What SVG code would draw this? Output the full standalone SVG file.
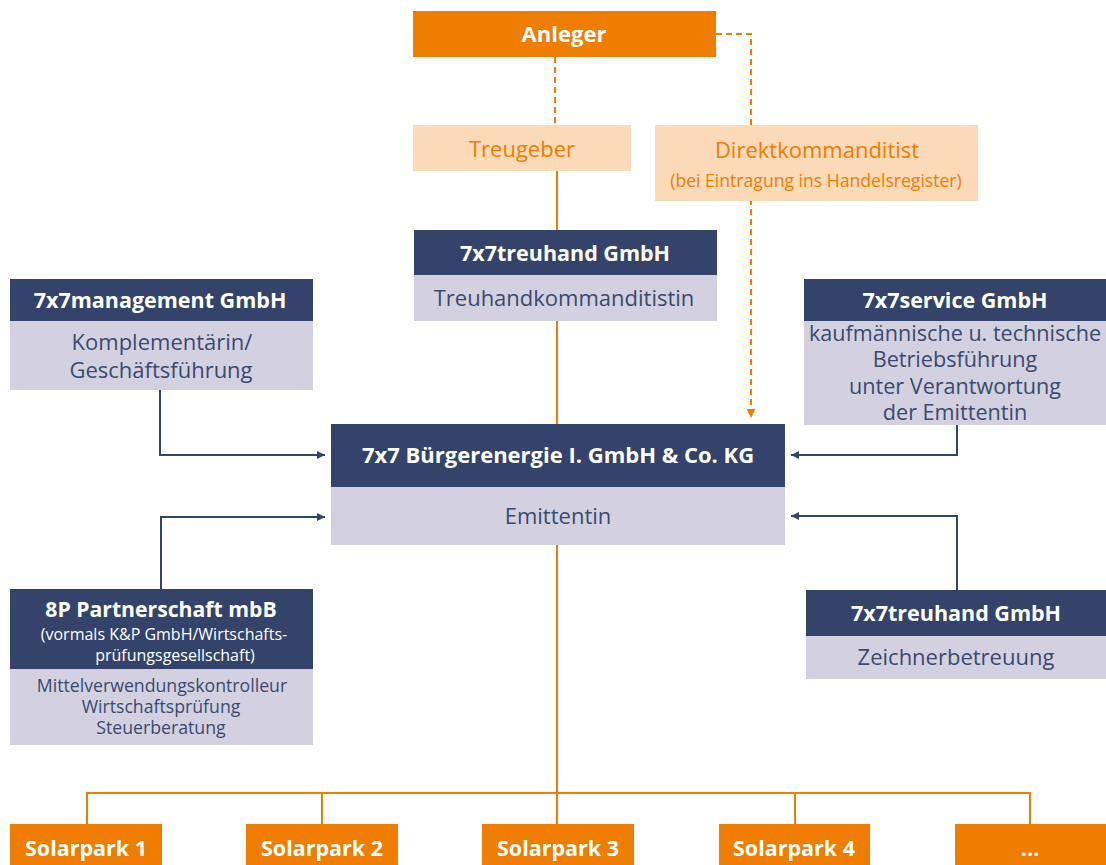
<svg xmlns="http://www.w3.org/2000/svg" width="1106" height="865" viewBox="0 0 1106 865">
<defs>
<style>
.hd{fill:#33436a}
.bd{fill:#d3d1df}
.or{fill:#ee7d00}
.lo{fill:#fcd9b7}
text{font-family:"Open Sans","DejaVu Sans",sans-serif;text-anchor:middle}
.ht{fill:#fff;font-weight:bold;font-size:21.5px}
.bt{fill:#3a4a72;font-size:22px}
.ot{fill:#ee7d00;font-size:22px}
.st{fill:#fff;font-size:16px}
.nav{stroke:#33436a;stroke-width:2;fill:none}
.orl{stroke:#ee7d00;stroke-width:2;fill:none}
.dash{stroke:#ee7d00;stroke-width:2;fill:none;stroke-dasharray:6,4}
</style>
<marker id="an" viewBox="0 0 10 10" refX="10" refY="5" markerWidth="8" markerHeight="8" markerUnits="userSpaceOnUse" orient="auto"><path d="M0,0 L10,5 L0,10 z" fill="#33436a"/></marker>
<marker id="ao" viewBox="0 0 10 10" refX="10" refY="5" markerWidth="9" markerHeight="9" markerUnits="userSpaceOnUse" orient="auto"><path d="M0,0 L10,5 L0,10 z" fill="#ee7d00"/></marker>
</defs>
<rect width="1106" height="865" fill="#fff"/>
<g id="connectors">
<path class="dash" d="M555,57 V125"/>
<path class="dash" d="M716,34 H751 V418" marker-end="url(#ao)"/>
<path class="orl" d="M557,171 V230"/>
<path class="orl" d="M557,321 V424"/>
<path class="nav" d="M160,390 V455 H325" marker-end="url(#an)"/>
<path class="nav" d="M957,425 V455 H791" marker-end="url(#an)"/>
<path class="nav" d="M161,589 V517 H325" marker-end="url(#an)"/>
<path class="nav" d="M957,590 V516 H791" marker-end="url(#an)"/>
<path class="orl" d="M557,545 V793"/>
<path class="orl" d="M87,824 V793 H1030 V824 M322,793 V824 M557,793 V824 M795,793 V824"/>
</g>
<g id="anleger">
<rect class="or" x="413" y="11" width="303" height="46"/>
<text class="ht" x="564" y="42" style="font-size:22px">Anleger</text>
</g>
<g id="treugeber">
<rect class="lo" x="413" y="125" width="218" height="46"/>
<text class="ot" x="522" y="157">Treugeber</text>
</g>
<g id="direkt">
<rect class="lo" x="655" y="125" width="323" height="76"/>
<text class="ot" x="817" y="158">Direktkommanditist</text>
<text class="ot" x="816" y="187" style="font-size:17.6px">(bei Eintragung ins Handelsregister)</text>
</g>
<g id="treuhand1">
<rect class="hd" x="414" y="230" width="303" height="45"/>
<rect class="bd" x="414" y="275" width="303" height="46"/>
<text class="ht" x="565" y="261">7x7treuhand GmbH</text>
<text class="bt" x="564" y="306">Treuhandkommanditistin</text>
</g>
<g id="management">
<rect class="hd" x="10" y="279" width="303" height="42"/>
<rect class="bd" x="10" y="321" width="303" height="69"/>
<text class="ht" x="160" y="308">7x7management GmbH</text>
<text class="bt" x="162" y="350">Komplementärin/</text>
<text class="bt" x="161" y="378">Geschäftsführung</text>
</g>
<g id="service">
<rect class="hd" x="804" y="279" width="302" height="42"/>
<rect class="bd" x="804" y="321" width="302" height="104"/>
<text class="ht" x="955" y="308">7x7service GmbH</text>
<text class="bt" x="955" y="341" style="font-size:21.6px">kaufmännische u. technische</text>
<text class="bt" x="955" y="367" style="font-size:21.6px">Betriebsführung</text>
<text class="bt" x="955" y="394" style="font-size:21.6px">unter Verantwortung</text>
<text class="bt" x="955" y="420" style="font-size:21.6px">der Emittentin</text>
</g>
<g id="emittentin">
<rect class="hd" x="331" y="424" width="454" height="63"/>
<rect class="bd" x="331" y="487" width="454" height="58"/>
<text class="ht" x="558" y="463" style="font-size:22px">7x7 Bürgerenergie I. GmbH &amp; Co. KG</text>
<text class="bt" x="558" y="524">Emittentin</text>
</g>
<g id="partner">
<rect class="hd" x="10" y="589" width="303" height="80"/>
<rect class="bd" x="10" y="669" width="303" height="76"/>
<text class="ht" x="161" y="617" style="font-size:21.2px">8P Partnerschaft mbB</text>
<text class="st" x="164" y="640">(vormals K&amp;P GmbH/Wirtschafts-</text>
<text class="st" x="175" y="661">prüfungsgesellschaft)</text>
<text class="bt" x="162" y="692" style="font-size:17.7px">Mittelverwendungskontrolleur</text>
<text class="bt" x="161" y="713" style="font-size:17.7px">Wirtschaftsprüfung</text>
<text class="bt" x="161" y="734" style="font-size:17.7px">Steuerberatung</text>
</g>
<g id="treuhand2">
<rect class="hd" x="806" y="590" width="300" height="46"/>
<rect class="bd" x="806" y="636" width="300" height="43"/>
<text class="ht" x="956" y="621">7x7treuhand GmbH</text>
<text class="bt" x="956" y="665">Zeichnerbetreuung</text>
</g>
<g id="sp1"><rect class="or" x="10" y="824" width="152" height="41"/><text class="ht" x="86" y="856">Solarpark 1</text></g>
<g id="sp2"><rect class="or" x="246" y="824" width="152" height="41"/><text class="ht" x="322" y="856">Solarpark 2</text></g>
<g id="sp3"><rect class="or" x="482" y="824" width="152" height="41"/><text class="ht" x="558" y="856">Solarpark 3</text></g>
<g id="sp4"><rect class="or" x="719" y="824" width="151" height="41"/><text class="ht" x="794" y="856">Solarpark 4</text></g>
<g id="sp5"><rect class="or" x="955" y="824" width="151" height="41"/><text class="ht" x="1030" y="856">...</text></g>
</svg>
